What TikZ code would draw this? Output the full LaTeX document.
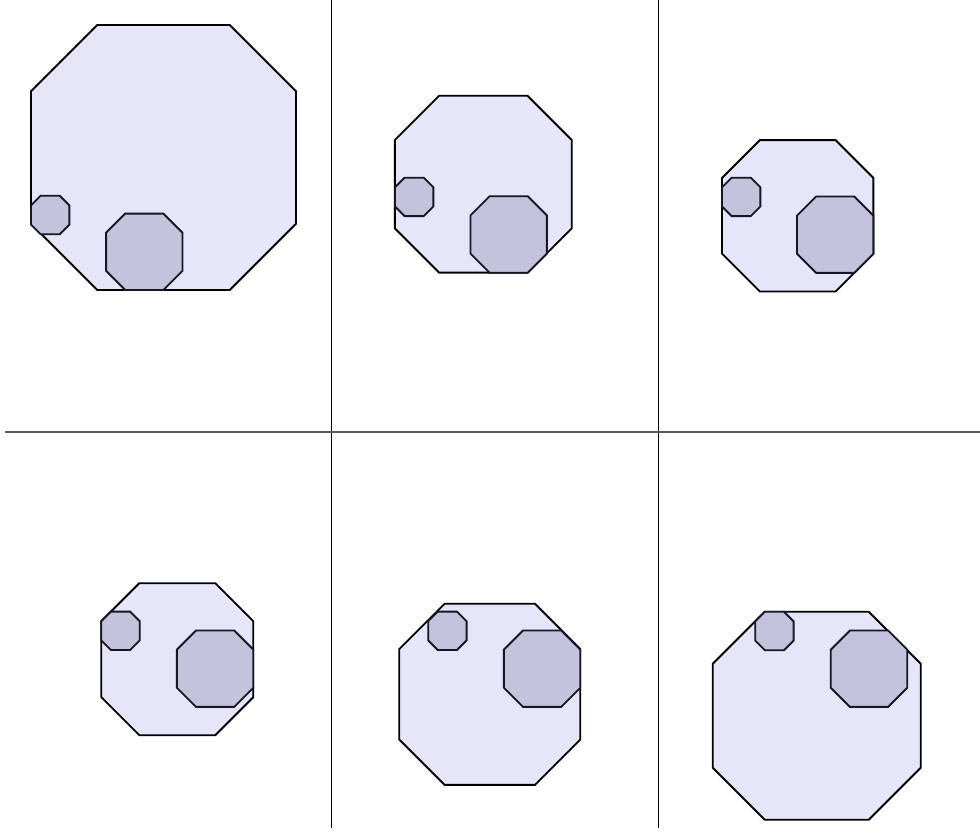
\documentclass[tikz,border=0pt]{standalone}
\definecolor{bigfill}{RGB}{230,230,251}
\definecolor{smallfill}{RGB}{195,196,220}
\definecolor{smalldraw}{RGB}{22,22,40}
\tikzset{
  bigoct/.style={draw=black, fill=bigfill, line width=1.4pt, line join=miter},
  smalloct/.style={draw=smalldraw, fill=smallfill, line width=1.4pt, line join=miter},
  vgrid/.style={draw=black, line width=0.65pt},
  hgrid/.style={draw=black!65, line width=1.4pt}
}
\newcommand\Oct[4]{\draw[#1] ({#2-#4},{#3-#4/2}) -- ({#2-#4/2},{#3-#4}) -- ({#2+#4/2},{#3-#4}) -- ({#2+#4},{#3-#4/2}) -- ({#2+#4},{#3+#4/2}) -- ({#2+#4/2},{#3+#4}) -- ({#2-#4/2},{#3+#4}) -- ({#2-#4},{#3+#4/2}) -- cycle;}
\begin{document}
\begin{tikzpicture}[x=0.75pt,y=-0.75pt]
\useasboundingbox (0,0) rectangle (980,833);
% grid
\coordinate (v1t) at (331,0); \coordinate (v1b) at (331,828);
\coordinate (v2t) at (658,0); \coordinate (v2b) at (658,828);
\coordinate (hl) at (5,432); \coordinate (hr) at (980,432);
\draw[vgrid] (v1t) -- (v1b);
\draw[vgrid] (v2t) -- (v2b);
\draw[hgrid] (hl) -- (hr);
% panel 1
\Oct{bigoct}{163.5}{157.5}{132.5}
\Oct{smalloct}{50.2}{215}{19.2}
\Oct{smalloct}{144.3}{251.8}{38.2}
% panel 2
\Oct{bigoct}{483.3}{184.2}{88.4}
\Oct{smalloct}{414.2}{196.9}{19.2}
\Oct{smalloct}{508.7}{234.5}{38.2}
% panel 3
\Oct{bigoct}{797.7}{215.8}{75.7}
\Oct{smalloct}{741.2}{196.9}{19.2}
\Oct{smalloct}{835.2}{234.7}{38.2}
% panel 4
\Oct{bigoct}{177.3}{659.2}{76}
\Oct{smalloct}{120.5}{630.8}{19.2}
\Oct{smalloct}{215.1}{668.7}{38.2}
% panel 5
\Oct{bigoct}{489.8}{694.3}{90.5}
\Oct{smalloct}{447.4}{630.8}{19.2}
\Oct{smalloct}{542.1}{668.7}{38.2}
% panel 6
\Oct{bigoct}{816.7}{715.7}{104}
\Oct{smalloct}{774.4}{631}{19.2}
\Oct{smalloct}{869}{668.7}{38.2}
\end{tikzpicture}
\end{document}
